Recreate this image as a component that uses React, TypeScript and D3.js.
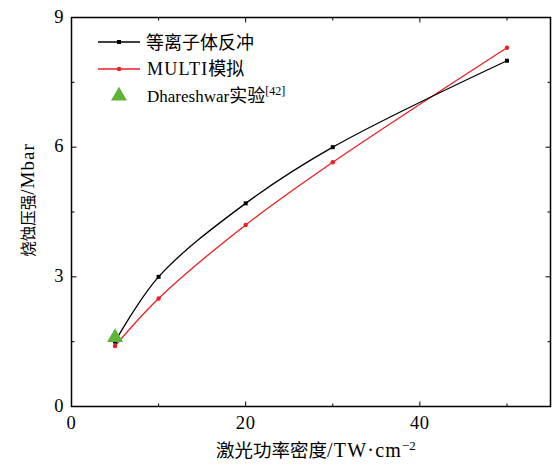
import React from "react";
import * as d3 from "d3";

const plasmaX = [5, 10, 20, 30, 50];
const plasmaY = [1.5, 3.0, 4.7, 6.0, 8.0];
const multiX = [5, 10, 20, 30, 50];
const multiY = [1.4, 2.5, 4.2, 5.65, 8.3];
const expX = [5];
const expY = [1.6];
const xMajorTicks = [0, 20, 40];
const xMinorTicks = [10, 30, 50];
const yMajorTicks = [0, 3, 6, 9];
const yMinorTicks = [1.5, 4.5, 7.5];
const legendLabels = ["等离子体反冲", "MULTI模拟", "Dhareshwar实验"];

const W = 555, H = 465;
const L = 71.5, R = 550.5, T = 17.5, B = 406.5;
const LATIN = "'Liberation Serif', 'DejaVu Serif', serif";
const CJK = "'Noto Sans CJK SC', sans-serif";

export default function App() {
  const x = d3.scaleLinear().domain([0, 55]).range([L, R]);
  const y = d3.scaleLinear().domain([0, 9]).range([B, T]);
  const line = d3
    .line<[number, number]>()
    .x((d) => x(d[0]))
    .y((d) => y(d[1]))
    .curve(d3.curveCatmullRom.alpha(0.5));
  const plasma = plasmaX.map((v, i) => [v, plasmaY[i]] as [number, number]);
  const multi = multiX.map((v, i) => [v, multiY[i]] as [number, number]);
  const tri = d3.symbol().type(d3.symbolTriangle).size(110)();
  const fs = 18.5;
  return (
    <svg width={W} height={H} style={{ position: "absolute", left: 0, top: 0, background: "#fff" }}>
      <rect x={0} y={0} width={W} height={H} fill="#fff" />
      {/* ticks */}
      {xMajorTicks.map((t) => (
        <g key={"xM" + t}>
          <line x1={x(t)} x2={x(t)} y1={B} y2={B - 5} stroke="#000" strokeWidth={1} />
          <line x1={x(t)} x2={x(t)} y1={T} y2={T + 5} stroke="#000" strokeWidth={1} />
          <text x={x(t)} y={B + 22} textAnchor="middle" fontFamily={LATIN} fontSize={fs} letterSpacing={0.6}>{t}</text>
        </g>
      ))}
      {xMinorTicks.map((t) => (
        <g key={"xm" + t}>
          <line x1={x(t)} x2={x(t)} y1={B} y2={B - 3} stroke="#000" strokeWidth={1} />
          <line x1={x(t)} x2={x(t)} y1={T} y2={T + 3} stroke="#000" strokeWidth={1} />
        </g>
      ))}
      {yMajorTicks.map((t) => (
        <g key={"yM" + t}>
          <line x1={L} x2={L + 5} y1={y(t)} y2={y(t)} stroke="#000" strokeWidth={1} />
          <line x1={R} x2={R - 5} y1={y(t)} y2={y(t)} stroke="#000" strokeWidth={1} />
          <text x={L - 8} y={y(t) + 5} textAnchor="end" fontFamily={LATIN} fontSize={fs}>{t}</text>
        </g>
      ))}
      {yMinorTicks.map((t) => (
        <g key={"ym" + t}>
          <line x1={L} x2={L + 3} y1={y(t)} y2={y(t)} stroke="#000" strokeWidth={1} />
          <line x1={R} x2={R - 3} y1={y(t)} y2={y(t)} stroke="#000" strokeWidth={1} />
        </g>
      ))}
      <rect x={L} y={T} width={R - L} height={B - T} fill="none" stroke="#000" strokeWidth={1.5} />
      {/* series */}
      <path d={line(multi) || ""} fill="none" stroke="#ee1c25" strokeWidth={1.3} />
      {multi.map((d, i) => (
        <circle key={"m" + i} cx={x(d[0])} cy={y(d[1])} r={2.2} fill="#ee1c25" />
      ))}
      <path d={line(plasma) || ""} fill="none" stroke="#000" strokeWidth={1.3} />
      {plasma.map((d, i) => (
        <rect key={"p" + i} x={x(d[0]) - 2} y={y(d[1]) - 2} width={4} height={4} fill="#000" />
      ))}
      {expX.map((v, i) => (
        <path key={"e" + i} d={tri || ""} transform={`translate(${x(v)},${y(expY[i])})`} fill="#5cb338" />
      ))}
      {/* legend */}
      <line x1={98} x2={140} y1={42} y2={42} stroke="#000" strokeWidth={1.3} />
      <rect x={117} y={40} width={4} height={4} fill="#000" />
      <text x={146} y={49} fontFamily={CJK} fontSize={18}>{legendLabels[0]}</text>
      <line x1={98} x2={140} y1={69} y2={69} stroke="#ee1c25" strokeWidth={1.3} />
      <circle cx={119} cy={69} r={2.2} fill="#ee1c25" />
      <text x={147} y={75} fontSize={18}>
        <tspan fontFamily={LATIN} letterSpacing={1.2}>MULTI</tspan>
        <tspan fontFamily={CJK}>模拟</tspan>
      </text>
      <path d={tri || ""} transform="translate(119,96)" fill="#5cb338" />
      <text x={147} y={102} fontSize={17}>
        <tspan fontFamily={LATIN}>Dhareshwar</tspan>
        <tspan fontFamily={CJK} fontSize={18}>实验</tspan>
        <tspan fontFamily={LATIN} fontSize={12} dy={-7}>[42]</tspan>
      </text>
      {/* axis titles */}
      <text x={216} y={457} fontSize={fs}>
        <tspan fontFamily={CJK}>激光功率密度</tspan>
        <tspan fontFamily={LATIN} fontSize={20} letterSpacing={1.2}>/TW·cm</tspan>
        <tspan fontFamily={LATIN} fontSize={13} dy={-7}>−2</tspan>
      </text>
      <text transform={`translate(34,200) rotate(-90)`} textAnchor="middle" fontSize={15.5}>
        <tspan fontFamily={CJK}>烧蚀压强</tspan>
        <tspan fontFamily={LATIN} fontSize={19} letterSpacing={1}>/Mbar</tspan>
      </text>
    </svg>
  );
}
